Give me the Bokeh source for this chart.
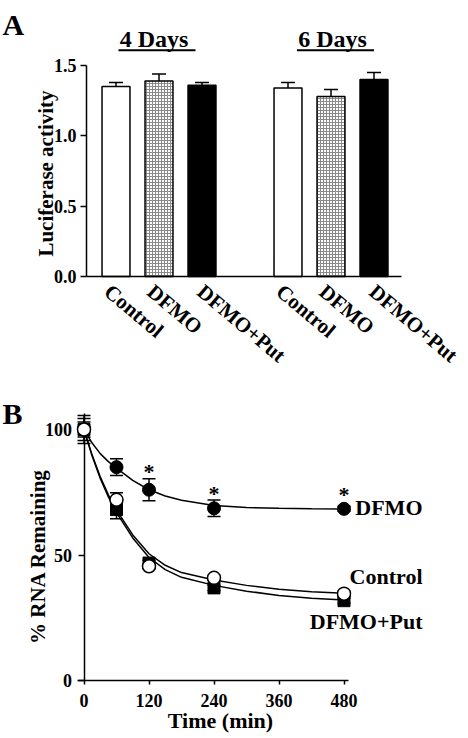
import math
from bokeh.plotting import figure
from bokeh.layouts import column
from bokeh.models import (ColumnDataSource, Whisker, TeeHead, FixedTicker, Range1d,
                          NumeralTickFormatter)
from bokeh.core.properties import value
from bokeh.embed import file_html
from bokeh.resources import INLINE

FONT = "Liberation Serif"

# ---------------- Panel A data ----------------
conditions = ["Control", "DFMO", "DFMO+Put"]
day_groups = ["4  Days", "6  Days"]
luc_4d = [1.35, 1.39, 1.36]
luc_4d_err = [0.03, 0.05, 0.02]
luc_6d = [1.34, 1.28, 1.40]
luc_6d_err = [0.04, 0.05, 0.05]
luc_ticks = [0.0, 0.5, 1.0, 1.5]

# ---------------- Panel B data ----------------
time_min = [0, 60, 120, 240, 480]
control = [100, 72.0, 45.5, 40.9, 34.6]
control_err = [5.6, 2.8, 1.0, 1.0, 1.0]
dfmo = [100, 85.0, 76.0, 68.6, 68.4]
dfmo_err = [4.4, 3.3, 4.4, 3.3, 1.0]
dfmo_put = [100, 68.1, 46.8, 36.9, 31.8]
dfmo_put_err = [3.0, 3.7, 1.0, 1.0, 1.0]
signif_time = [120, 240, 480]

# fitted decay curves
fit_t = [0, 15, 30, 45, 60, 90, 120, 150, 180, 240, 300, 360, 420, 480]
dfmo_fit = [100, 94.6, 90.4, 87.2, 84.6, 79.7, 76.0, 73.5, 71.8, 69.7, 68.9, 68.6, 68.4, 68.3]
control_fit = [100, 89.8, 81.2, 74.0, 67.9, 58.0, 50.5, 45.9, 43.0, 40.0, 37.9, 36.4, 35.4, 34.8]
dfmo_put_fit = [100, 89.4, 80.5, 73.1, 66.9, 56.8, 49.0, 44.2, 41.1, 37.9, 35.6, 33.9, 32.8, 32.1]
rna_ticks = [0, 50, 100]
time_ticks = [0, 120, 240, 360, 480]

W = 468
HA = 370
HB = 367


def bold_text(p, **kw):
    kw.setdefault("text_color", "black")
    p.text(text_font=value(FONT), text_font_style="bold", **kw)


def style_axes(p):
    p.grid.visible = False
    p.outline_line_color = None
    for ax in p.axis:
        ax.axis_line_width = 1.5
        ax.axis_line_color = "black"
        ax.major_tick_line_width = 1.5
        ax.major_tick_line_color = "black"
        ax.major_tick_in = 0
        ax.minor_tick_line_color = None
        ax.major_label_text_font = FONT
        ax.major_label_text_font_style = "bold"
        ax.major_label_text_font_size = "18px"
        ax.major_label_text_color = "black"


def make_fig(h, xr, yr):
    return figure(width=W, height=h, x_range=xr, y_range=yr, output_backend="svg",
                  toolbar_location=None, title=None, min_border=0,
                  min_border_left=0, min_border_right=0, min_border_top=0,
                  min_border_bottom=0)


# ================= Panel A (pixel layout -> data) =================
A_X0_PX, A_X_STEP = 115.5, 43.0          # first bar centre, slot width
A_Y0_PX, A_Y_SCALE = 276.0, 211.0 / 1.5  # y=0 pixel, px per unit
A_AXIS_PX, A_RIGHT_PX = 86.0, 401.0


def ax(px):
    return (px - A_X0_PX) / A_X_STEP


def ay(py):
    return (A_Y0_PX - py) / A_Y_SCALE


pa = make_fig(HA, Range1d(ax(0), ax(W)), Range1d(ay(HA), ay(0)))
style_axes(pa)

groups = [luc_4d, luc_6d]
group_errs = [luc_4d_err, luc_6d_err]


def slot(g, i):
    return g * (len(conditions) + 1) + i


bar_styles = [
    dict(fill_color="white"),
    dict(fill_color="white", hatch_pattern="+", hatch_color="#8a8a8a", hatch_scale=3,
         hatch_weight=1),
    dict(fill_color="black"),
]
for i in range(len(conditions)):
    xs = [slot(g, i) for g in range(2)]
    tops = [groups[g][i] for g in range(2)]
    errs = [group_errs[g][i] for g in range(2)]
    src = ColumnDataSource(dict(x=xs, top=tops, upper=[t + e for t, e in zip(tops, errs)]))
    pa.add_layout(Whisker(source=src, base="x", lower="top", upper="upper",
                          line_width=1.5, line_color="black", lower_head=None,
                          upper_head=TeeHead(size=14, line_width=1.5, line_color="black")))
    pa.vbar(x="x", top="top", width=0.65, source=src, line_color="black", line_width=1.5,
            **bar_styles[i])

pa.yaxis.fixed_location = ax(A_AXIS_PX)
pa.yaxis.bounds = (0, 1.5)
pa.yaxis.ticker = FixedTicker(ticks=luc_ticks)
pa.yaxis.formatter = NumeralTickFormatter(format="0.0")
pa.yaxis.major_tick_out = 6
pa.yaxis.major_label_standoff = 4

pa.xaxis.fixed_location = 0
pa.xaxis.bounds = (ax(A_AXIS_PX), ax(A_RIGHT_PX))
pa.xaxis.ticker = FixedTicker(ticks=[], minor_ticks=[])
pa.xaxis.major_tick_out = 0

# rotated category labels
label_shift = [-1, -1, 6]
lx, lt, lo = [], [], []
for g in range(2):
    for i in range(len(conditions)):
        lx.append(slot(g, i))
        lt.append(conditions[i])
        lo.append(label_shift[i])
bold_text(pa, x=lx, y=[0] * len(lx), text=lt, angle=-0.7, x_offset=lo, y_offset=3,
          text_align="left", text_baseline="top", text_font_size="21px")

# y axis title
bold_text(pa, x=[ax(45)], y=[ay(173)], text=["Luciferase activity"], angle=math.pi / 2,
          text_align="center", text_baseline="middle", text_font_size="21px")

# group headers with underline
header_shift_px = [-2.0, 4.5]
hx, hoff = [], []
for g in range(2):
    cx = slot(g, 1)
    hx.append(cx)
    hoff.append(header_shift_px[g])
bold_text(pa, x=hx, y=[ay(38)] * 2, text=day_groups, x_offset=hoff, text_align="center",
          text_baseline="middle", text_font_size="24px")
pa.segment(x0=[c + (o - 38.5) / A_X_STEP for c, o in zip(hx, hoff)],
           x1=[c + (o + 38.5) / A_X_STEP for c, o in zip(hx, hoff)],
           y0=[ay(49.8)] * 2, y1=[ay(49.8)] * 2, line_color="black", line_width=2)

bold_text(pa, x=[ax(2)], y=[ay(24)], text=["A"], text_align="left",
          text_baseline="middle", text_font_size="30px")

# ================= Panel B (pixel layout -> data) =================
B_TOP_PX = HA
B_T0_PX, B_T_SCALE = 83.5, 65.0 / 120.0
B_Y0_PX, B_Y_SCALE = 680.0, 2.51


def bx(px):
    return (px - B_T0_PX) / B_T_SCALE


def by(py):
    return (B_Y0_PX - py) / B_Y_SCALE


pb = make_fig(HB, Range1d(bx(0), bx(W)), Range1d(by(B_TOP_PX + HB), by(B_TOP_PX)))
style_axes(pb)

pb.yaxis.fixed_location = 0
pb.yaxis.bounds = (0, by(413))
pb.yaxis.ticker = FixedTicker(ticks=rna_ticks)
pb.yaxis.major_tick_out = 6
pb.yaxis.major_label_standoff = 6
pb.yaxis.level = "underlay"

pb.xaxis.fixed_location = 0
pb.xaxis.bounds = (bx(77), bx(348))
pb.xaxis.ticker = FixedTicker(ticks=time_ticks)
pb.xaxis.major_tick_out = 4
pb.xaxis.major_label_standoff = 9

# fitted curves
for fit in (dfmo_fit, control_fit, dfmo_put_fit):
    pb.line(fit_t, fit, line_color="black", line_width=1.5)

# error bars
for vals, errs in ((dfmo, dfmo_err), (control, control_err), (dfmo_put, dfmo_put_err)):
    src = ColumnDataSource(dict(t=time_min, lo=[v - e for v, e in zip(vals, errs)],
                                hi=[v + e for v, e in zip(vals, errs)]))
    pb.add_layout(Whisker(source=src, base="t", lower="lo", upper="hi",
                          line_width=1.5, line_color="black",
                          lower_head=TeeHead(size=13, line_width=1.5, line_color="black"),
                          upper_head=TeeHead(size=13, line_width=1.5, line_color="black")))

pb.scatter(time_min, dfmo, marker="circle", size=13, fill_color="black", line_color="black")
pb.scatter(time_min, dfmo_put, marker="square", size=12, fill_color="black", line_color="black")
pb.scatter(time_min, control, marker="circle", size=13, fill_color="white", line_color="black",
           line_width=1.5)

# significance marks
sig_y = []
for t in signif_time:
    k = time_min.index(t)
    sig_y.append(dfmo[k] + max(dfmo_err[k], 2.8))
bold_text(pb, x=signif_time, y=sig_y, text=["*"] * len(signif_time), y_offset=-7,
          text_align="center", text_baseline="alphabetic", text_font_size="22px")

# series labels
bold_text(pb, x=[time_min[-1]] * 3, y=[dfmo[-1], control[-1], dfmo_put[-1]],
          text=["DFMO", "Control", "DFMO+Put"], x_offset=78.5, y_offset=[-1.3, -17, 21],
          text_align="right", text_baseline="middle", text_font_size="22px")

# axis titles
bold_text(pb, x=[bx(37.5)], y=[by(556)], text=["% RNA Remaining"], angle=math.pi / 2,
          text_align="center", text_baseline="middle", text_font_size="21px")
bold_text(pb, x=[bx(220)], y=[by(720)], text=["Time (min)"], text_align="center",
          text_baseline="middle", text_font_size="22px")

bold_text(pb, x=[bx(2)], y=[by(413)], text=["B"], text_align="left",
          text_baseline="middle", text_font_size="30px")

layout = column(pa, pb)
open("out.html", "w").write(file_html(layout, INLINE))
